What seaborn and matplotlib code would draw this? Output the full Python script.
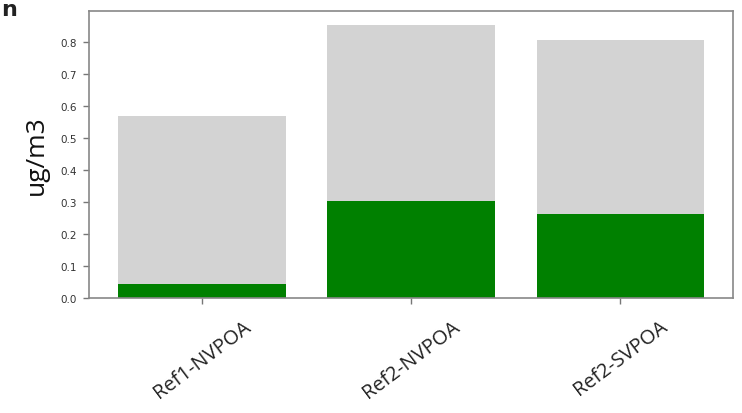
import matplotlib
matplotlib.use("Agg")
import matplotlib.pyplot as plt
import seaborn as sns
import pandas as pd

# Concentrations per reference case (ug/m3)
categories = ["Ref1-NVPOA", "Ref2-NVPOA", "Ref2-SVPOA"]
total_values = [0.568, 0.854, 0.805]
part_values = [0.044, 0.302, 0.263]
y_ticks = [0.0, 0.1, 0.2, 0.3, 0.4, 0.5, 0.6, 0.7, 0.8]

df = pd.DataFrame({"case": categories, "total": total_values, "part": part_values})

sns.set_theme(style="ticks")
plt.rcParams["font.family"] = ["DejaVu Sans"]

fig = plt.figure(figsize=(7.42, 4.14), dpi=100)
ax = fig.add_axes([0.120, 0.278, 0.868, 0.693])

sns.barplot(data=df, x="case", y="total", color="lightgray", saturation=1,
            width=0.8, linewidth=0, ax=ax)
sns.barplot(data=df, x="case", y="part", color="green", saturation=1,
            width=0.8, linewidth=0, ax=ax)

ax.set_xlim(-0.54, 2.54)
ax.set_ylim(0, 0.897)
ax.set_yticks(y_ticks)
ax.set_yticklabels([f"{v:.1f}" for v in y_ticks], fontsize=7.5, color="#333333")
ax.set_xticks(range(len(categories)))
ax.set_xticklabels(categories, rotation=37, ha="center",
                   fontsize=14.5, family=["Open Sans", "DejaVu Sans"], color="#222222")
ax.tick_params(axis="y", length=4, width=1, color="#777777", pad=5)
ax.tick_params(axis="x", length=4, width=1, color="#777777", pad=9)

ax.set_xlabel("")
ax.set_ylabel("ug/m3", fontsize=19, family=["Open Sans", "DejaVu Sans"],
              color="#111111", labelpad=8)

for side in ["left", "right", "top", "bottom"]:
    ax.spines[side].set_visible(True)
    ax.spines[side].set_color("#888888")
    ax.spines[side].set_linewidth(1.2)

# panel letter at the figure's top-left corner
fig.text(0.002, 0.975, "n", fontsize=16, fontweight="bold", color="#222222",
         ha="left", va="center")

fig.savefig("out.png", dpi=100)
